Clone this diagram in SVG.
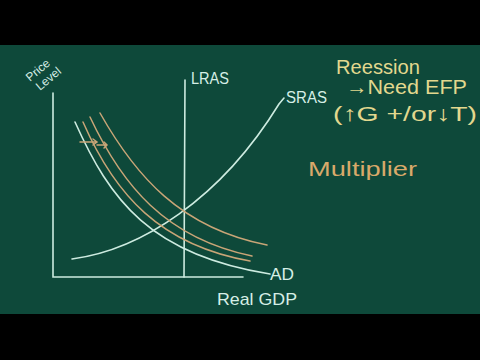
<svg xmlns="http://www.w3.org/2000/svg" width="480" height="360" viewBox="0 0 480 360">
<style>
.w{fill:none;stroke:#cdebe0;stroke-width:1.6;stroke-linecap:round}
.o{fill:none;stroke:#c9a577;stroke-width:1.5;stroke-linecap:round}
.tw{fill:#d6efe6;font-family:"Liberation Sans",sans-serif}
.ty{fill:#e2d88e;font-family:"Liberation Sans",sans-serif}
.to{fill:#d9a96a;font-family:"Liberation Sans",sans-serif}
</style>
<rect x="0" y="0" width="480" height="360" fill="#000"/>
<rect x="0" y="45" width="480" height="269" fill="#0e493a"/>
<g id="axes">
<path class="w" d="M53,93 L53,277 L243,277"/>
<text class="tw" font-size="12" transform="translate(30,82) rotate(-40)">Price</text>
<text class="tw" font-size="12" transform="translate(40,91) rotate(-40)">Level</text>
<text class="tw" font-size="17" x="217" y="305" textLength="80" lengthAdjust="spacingAndGlyphs">Real GDP</text>
</g>
<g id="lras">
<path class="w" d="M185,80 L184,277"/>
<text class="tw" font-size="17" x="191" y="84" textLength="38" lengthAdjust="spacingAndGlyphs">LRAS</text>
</g>
<g id="sras">
<path class="w" d="M72,259 C140,250 220,200 279,104 L284,98"/>
<text class="tw" font-size="16" x="286" y="103" textLength="41" lengthAdjust="spacingAndGlyphs">SRAS</text>
</g>
<g id="ad">
<path class="w" d="M75,122 C110,200 150,255 270,274"/>
<text class="tw" font-size="17" x="270" y="280" textLength="24" lengthAdjust="spacingAndGlyphs">AD</text>
</g>
<g id="ad-shifts">
<path class="o" d="M83,122 C115,195 160,245 250,261"/>
<path class="o" d="M90,117 C122,185 165,238 252,256"/>
<path class="o" d="M100,113 C135,175 180,228 267,245"/>
<path class="o" d="M80,142 L97,142 M93,139 L97,142 L93,145"/>
<path class="o" d="M97,145 L107,145 M104,142 L107,145 L104,148"/>
</g>
<g id="notes">
<text class="ty" font-size="20" x="336" y="74" textLength="84" lengthAdjust="spacingAndGlyphs">Reession</text>
<text class="ty" font-size="20" x="346" y="94" textLength="121" lengthAdjust="spacingAndGlyphs">→Need EFP</text>
<text class="ty" font-size="21" x="333" y="121" textLength="144" lengthAdjust="spacingAndGlyphs">(↑G +/or↓T)</text>
<text class="to" font-size="21" x="308" y="176" textLength="109" lengthAdjust="spacingAndGlyphs">Multiplier</text>
</g>
</svg>
